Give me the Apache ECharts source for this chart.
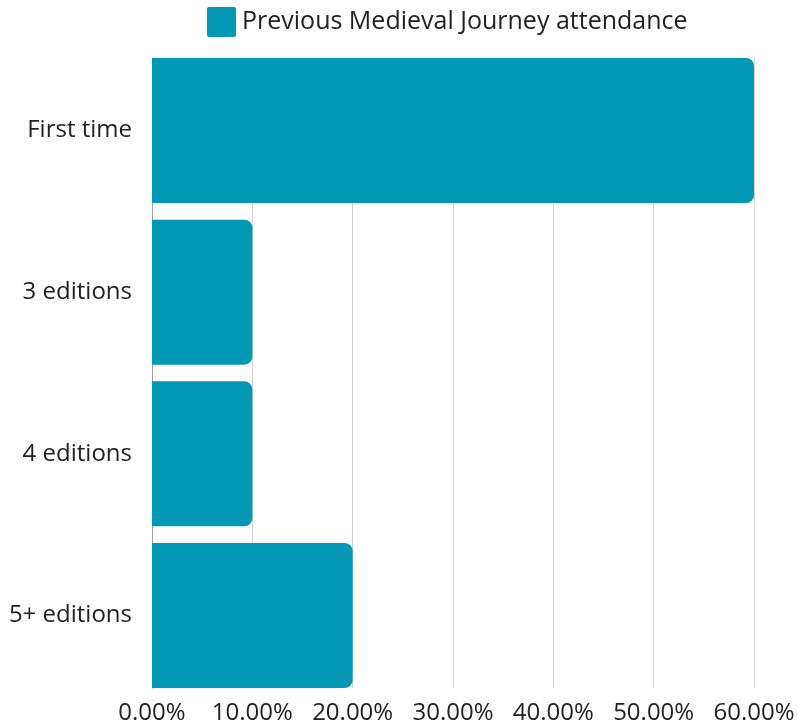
<!DOCTYPE html>
<html>
<head>
<meta charset="utf-8">
<script src="https://cdn.jsdelivr.net/npm/echarts@6/dist/echarts.min.js"></script>
<style>
html,body{margin:0;padding:0;background:#fff;}
#chart{width:798px;height:725px;}
</style>
</head>
<body>
<div id="chart"></div>
<script>
const categories = ['First time', '3 editions', '4 editions', '5+ editions'];
const values = [60, 10, 10, 20];
const seriesName = 'Previous Medieval Journey attendance';
const xTicks = { min: 0, max: 60, interval: 10 };

const FONT = '"Open Sans", sans-serif';
const chart = echarts.init(document.getElementById('chart'), null, { renderer: 'canvas' });
chart.setOption({
  backgroundColor: '#fff',
  animation: false,
  legend: {
    data: [seriesName],
    top: 7,
    left: 207,
    padding: 0,
    itemWidth: 29,
    itemHeight: 30,
    itemGap: 10,
    icon: 'path://M2,0 L27,0 Q29,0 29,2 L29,28 Q29,30 27,30 L2,30 Q0,30 0,28 L0,2 Q0,0 2,0 Z',
    textStyle: { fontFamily: FONT, fontSize: 25, color: '#222', padding: [0, 0, 2, 1] }
  },
  grid: [
    { left: 152, right: 44, top: 58, bottom: 37, containLabel: false },
    { left: 152, right: 44, top: 49.7, bottom: 28.7, containLabel: false }
  ],
  xAxis: [
    {
      gridIndex: 0, type: 'value', min: xTicks.min, max: xTicks.max, interval: xTicks.interval,
      axisLine: { show: false }, axisTick: { show: false },
      splitLine: { show: true, lineStyle: { color: '#d2d2d2', width: 1 } },
      axisLabel: { fontFamily: FONT, fontSize: 24, color: '#222', margin: 13,
        formatter: v => v.toFixed(2) + '%' }
    },
    {
      gridIndex: 1, type: 'value', min: xTicks.min, max: xTicks.max, interval: xTicks.interval,
      show: false
    }
  ],
  yAxis: [
    {
      gridIndex: 0, type: 'category', data: categories, inverse: true,
      axisLine: { show: true, lineStyle: { color: '#a0a0a0', width: 1 } },
      axisTick: { show: false }, axisLabel: { show: false }, splitLine: { show: false }
    },
    {
      gridIndex: 1, type: 'category', data: categories, inverse: true,
      axisLine: { show: false }, axisTick: { show: false }, splitLine: { show: false },
      axisLabel: { fontFamily: FONT, fontSize: 24, color: '#222', margin: 20, padding: [5, 0, 0, 0] }
    }
  ],
  series: [{
    name: seriesName,
    type: 'bar',
    xAxisIndex: 1, yAxisIndex: 1,
    data: values,
    barWidth: 145,
    itemStyle: { color: '#0098b4', borderRadius: [0, 8, 8, 0] }
  }]
});
</script>
</body>
</html>
